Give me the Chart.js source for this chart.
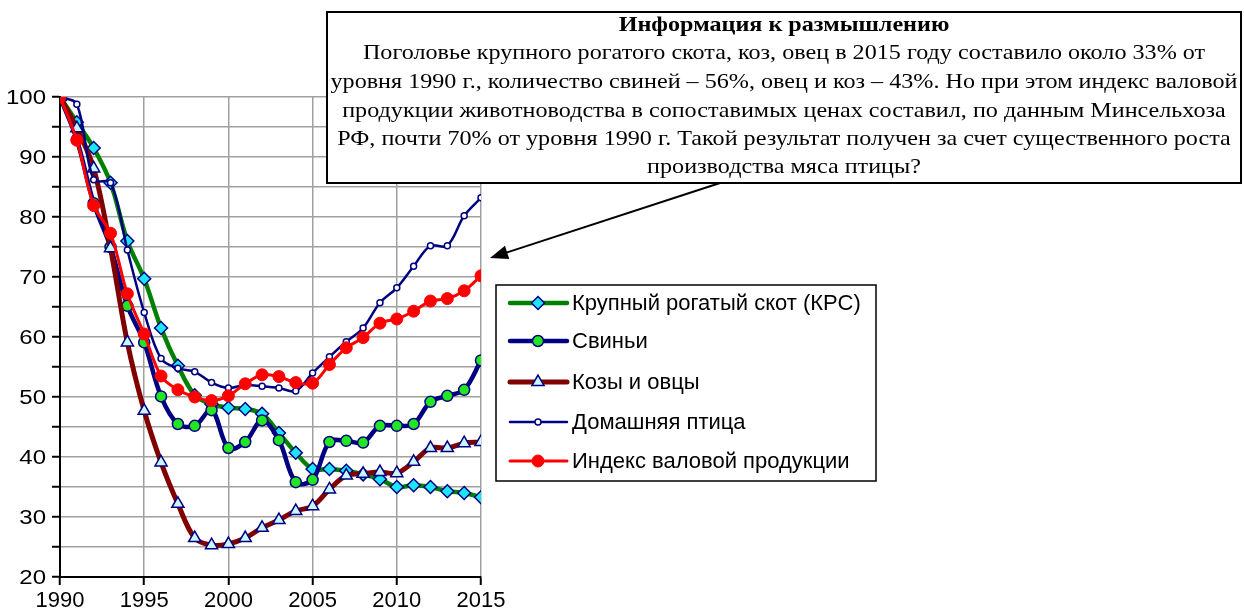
<!DOCTYPE html>
<html>
<head>
<meta charset="utf-8">
<script src="https://cdn.jsdelivr.net/npm/chart.js@4.4.0/dist/chart.umd.min.js"></script>
<style>
  body { margin: 0; background: #fff; }
  #wrap { width: 1244px; height: 612px; }
</style>
</head>
<body>
<div id="wrap"><canvas id="chart" width="1244" height="612"></canvas></div>
<script>
const years = [1990, 1991, 1992, 1993, 1994, 1995, 1996, 1997, 1998, 1999, 2000, 2001, 2002,
  2003, 2004, 2005, 2006, 2007, 2008, 2009, 2010, 2011, 2012, 2013, 2014, 2015];

const seriesNames = ['Крупный рогатый скот (КРС)', 'Свиньи', 'Козы и овцы', 'Домашняя птица', 'Индекс валовой продукции'];

const krs = [100, 95.8, 91.5, 85.7, 76, 69.7, 61.5, 55.2, 50.3, 48.8, 48.2, 48, 47.2,
  44, 40.7, 38, 38, 37.7, 37.1, 36.3, 35, 35.3, 35, 34.3, 34, 33.3];
const pigs = [100, 92.9, 82.3, 75, 65.2, 59.1, 50.1, 45.5, 45.2, 47.8, 41.5, 42.5, 46.1,
  42.8, 35.8, 36.2, 42.5, 42.7, 42.4, 45.2, 45.2, 45.5, 49.2, 50.2, 51.2, 56.1];
const goats = [100, 94.8, 88.1, 74.8, 59.1, 47.7, 39.1, 32.2, 26.5, 25.3, 25.5, 26.5, 28.2,
  29.5, 31, 31.8, 34.6, 36.9, 37.2, 37.5, 37.3, 39.2, 41.5, 41.5, 42.3, 42.5];
const poultry = [100, 98.8, 86.2, 85.7, 74.5, 64.1, 56.4, 54.8, 54.2, 52.4, 51.5, 52, 51.8,
  51.5, 51, 54, 56.7, 59.2, 61.5, 65.7, 68.2, 71.8, 75.2, 75.2, 80.2, 83.2];
const grossIndex = [100, 92.8, 81.9, 77.3, 67.2, 60.5, 53.5, 51.2, 50, 49.4, 50.2, 52.2, 53.7,
  53.4, 52.4, 52.3, 55.4, 58.2, 59.9, 62.3, 63, 64.3, 66, 66.4, 67.7, 70.2];

const noteTitle = 'Информация к размышлению';
const noteLines = [
  'Поголовье крупного рогатого скота, коз, овец в 2015 году составило около 33% от',
  'уровня 1990 г., количество свиней – 56%, овец и коз – 43%. Но при этом индекс валовой',
  'продукции животноводства в сопоставимых ценах составил, по данным Минсельхоза',
  'РФ, почти 70% от уровня 1990 г. Такой результат получен за счет существенного роста',
  'производства мяса птицы?'
];

const navy = '#000080';
const pts = arr => arr.map((v, i) => ({ x: years[i], y: v }));

const styles = [
  { line: '#008000', width: 4.5, style: 'rectRot', r: 6.5, fill: '#1ee5f5', border: navy, bw: 1.5 },
  { line: navy, width: 4.5, style: 'circle', r: 5.5, fill: '#22e622', border: navy, bw: 1.5 },
  { line: '#800000', width: 5, style: 'triangle', r: 7, fill: '#ccf6ff', border: navy, bw: 1.5 },
  { line: navy, width: 2.5, style: 'circle', r: 3, fill: '#ffffff', border: navy, bw: 1.5 },
  { line: '#ff0000', width: 3, style: 'circle', r: 6, fill: '#ff0000', border: '#ff0000', bw: 1 }
];
const allData = [krs, pigs, goats, poultry, grossIndex];

const datasets = allData.map((arr, i) => ({
  label: seriesNames[i],
  data: pts(arr),
  borderColor: styles[i].line,
  borderWidth: styles[i].width,
  pointStyle: styles[i].style,
  pointRadius: styles[i].r,
  pointBackgroundColor: styles[i].fill,
  pointBorderColor: styles[i].border,
  pointBorderWidth: styles[i].bw,
  tension: 0.35,
  fill: false,
  order: 4 - i   // last series drawn on top, like the original
}));

// y labels are drawn a bit wider than normal Arial, like in the original
const yLabels = {
  id: 'yLabels',
  afterDraw(chart) {
    const ctx = chart.ctx;
    const sc = chart.scales.y;
    ctx.save();
    ctx.font = '20px Arial, "Liberation Sans"';
    ctx.fillStyle = '#000';
    ctx.textAlign = 'right';
    ctx.textBaseline = 'middle';
    sc.ticks.forEach(t => {
      if (t.value % 10 !== 0) return;
      ctx.save();
      ctx.translate(46, sc.getPixelForValue(t.value) + 1);
      ctx.scale(1.2, 1);
      ctx.fillText(String(t.value), 0, 0);
      ctx.restore();
    });
    ctx.restore();
  }
};

// legend + note box + arrow, drawn on the canvas after the chart
const extras = {
  id: 'extras',
  afterDraw(chart) {
    const ctx = chart.ctx;
    ctx.save();

    // legend
    ctx.fillStyle = '#fff';
    ctx.fillRect(496, 285, 380, 196);
    ctx.strokeStyle = '#000';
    ctx.lineWidth = 1.5;
    ctx.strokeRect(496, 285, 380, 196);
    const rows = [303, 341, 382, 422, 461];
    ctx.font = '22px Arial, "Liberation Sans"';
    ctx.textBaseline = 'middle';
    ctx.textAlign = 'left';
    styles.forEach((s, i) => {
      const y = rows[i];
      ctx.strokeStyle = s.line;
      ctx.lineWidth = s.width;
      ctx.lineCap = 'round';
      ctx.beginPath();
      ctx.moveTo(510, y);
      ctx.lineTo(567, y);
      ctx.stroke();
      ctx.fillStyle = s.fill;
      ctx.strokeStyle = s.border;
      ctx.lineWidth = s.bw;
      Chart.helpers.drawPoint(ctx, { pointStyle: s.style, radius: s.r, borderWidth: s.bw, rotation: 0 }, 538, y);
      ctx.fillStyle = '#000';
      ctx.fillText(seriesNames[i], 572, y + 1);
    });

    // arrow from note box to the end of the curves
    ctx.strokeStyle = '#000';
    ctx.fillStyle = '#000';
    ctx.lineWidth = 2;
    ctx.lineCap = 'butt';
    const x0 = 720, y0 = 183, x1 = 490, y1 = 258;
    const ang = Math.atan2(y1 - y0, x1 - x0);
    ctx.beginPath();
    ctx.moveTo(x0, y0);
    ctx.lineTo(x1 - 14 * Math.cos(ang), y1 - 14 * Math.sin(ang));
    ctx.stroke();
    ctx.beginPath();
    ctx.moveTo(x1, y1);
    ctx.lineTo(x1 - 18 * Math.cos(ang) + 7 * Math.sin(ang), y1 - 18 * Math.sin(ang) - 7 * Math.cos(ang));
    ctx.lineTo(x1 - 18 * Math.cos(ang) - 7 * Math.sin(ang), y1 - 18 * Math.sin(ang) + 7 * Math.cos(ang));
    ctx.closePath();
    ctx.fill();

    // note box
    ctx.fillStyle = '#fff';
    ctx.fillRect(327, 12, 914, 171);
    ctx.strokeStyle = '#000';
    ctx.lineWidth = 2;
    ctx.strokeRect(327, 12, 914, 171);
    ctx.fillStyle = '#000';
    ctx.textAlign = 'center';
    const cx = 784;
    ctx.font = '22px "Times New Roman", "Liberation Serif"';
    const sx = 907 / ctx.measureText(noteLines[1]).width;
    const lineY = [53, 82, 111, 139, 167];
    noteLines.forEach((t, i) => {
      ctx.save();
      ctx.translate(cx, lineY[i]);
      ctx.scale(sx, 1);
      ctx.fillText(t, 0, 0);
      ctx.restore();
    });
    ctx.font = 'bold 22px "Times New Roman", "Liberation Serif"';
    ctx.save();
    ctx.translate(cx, 25);
    ctx.scale(sx, 1);
    ctx.fillText(noteTitle, 0, 0);
    ctx.restore();

    ctx.restore();
  }
};

new Chart(document.getElementById('chart'), {
  type: 'line',
  data: { datasets },
  plugins: [yLabels, extras],
  options: {
    responsive: false,
    animation: false,
    devicePixelRatio: 1,
    layout: { padding: { top: 97, right: 763, left: 0, bottom: 0 } },
    plugins: { legend: { display: false }, tooltip: { enabled: false } },
    scales: {
      x: {
        type: 'linear',
        min: 1990,
        max: 2015,
        afterFit: s => { s.height = 35; },
        ticks: {
          stepSize: 5,
          color: '#000',
          font: { family: 'Arial, "Liberation Sans"', size: 22 },
          padding: 3,
          maxRotation: 0,
          callback: v => String(v)
        },
        grid: { color: '#a0a0a0', lineWidth: 1.5, tickColor: '#000', tickWidth: 2, tickLength: 8 },
        border: { color: '#000', width: 2 }
      },
      y: {
        min: 20,
        max: 100,
        afterFit: s => { s.width = 60; },
        ticks: {
          stepSize: 5,
          autoSkip: false,
          color: 'rgba(0,0,0,0)',
          font: { family: 'Arial, "Liberation Sans"', size: 20 },
          padding: 6
        },
        grid: { color: '#a0a0a0', lineWidth: 1.5, tickColor: '#000', tickWidth: 2, tickLength: 8 },
        border: { color: '#000', width: 2 }
      }
    }
  }
});
</script>
</body>
</html>
